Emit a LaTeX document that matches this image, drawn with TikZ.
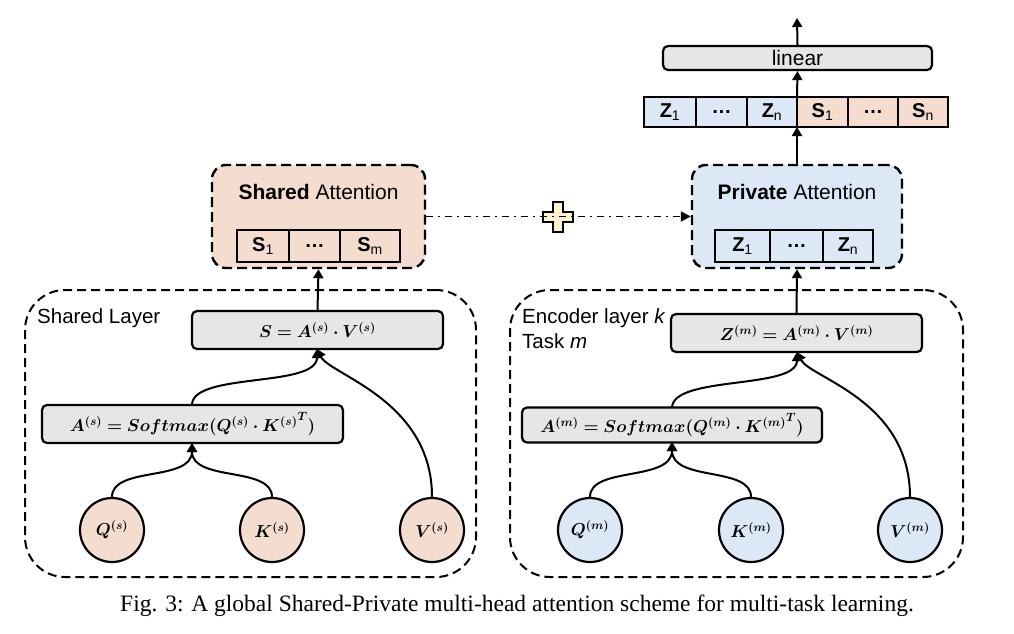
\documentclass[tikz,border=0pt]{standalone}
\usepackage{amsmath}
\usepackage{bm}
\usepackage{fontspec}
\setmainfont{Liberation Serif}
\setsansfont{Liberation Sans}
\usetikzlibrary{arrows.meta}
\definecolor{peach}{HTML}{F4DDCF}
\definecolor{lblue}{HTML}{DCE8F5}
\definecolor{lgray}{HTML}{E6E6E6}
\definecolor{plusy}{HTML}{FFF2CC}
\newcommand{\fsz}[1]{\fontsize{#1}{#1}\selectfont}
\begin{document}
\begin{tikzpicture}[x=1pt,y=-1pt,
  attbox/.style={draw, line width=2.4pt, dash pattern=on 10pt off 5pt, rounded corners=14pt, inner sep=0pt},
  layerbox/.style={draw, line width=2pt, dash pattern=on 9pt off 5pt, rounded corners=40pt, inner sep=0pt},
  cell/.style={draw, line width=2pt, minimum height=32pt, inner sep=0pt, font=\sffamily\fsz{20}},
  opbox/.style={draw, line width=2.2pt, fill=lgray, rounded corners=5pt, inner sep=0pt},
  circ/.style={draw, line width=2.2pt, circle, minimum size=64pt, inner sep=0pt, font=\fsz{17}},
  arr/.style={line width=2pt, -{Triangle[width=10pt,length=9pt]}},
  lab/.style={font=\sffamily\fsz{20.5}, anchor=base west, inner sep=0pt}
]
\useasboundingbox (0,0) rectangle (1014,633);

% ---------- attention boxes ----------
\node[attbox, fill=peach, minimum width=213pt, minimum height=103pt] (sa) at (318.5,216.5) {};
\node[font=\sffamily\fsz{21}] (satitle) at (318.5,192) {\textbf{Shared} Attention};
\node[cell, fill=peach, minimum width=52pt] (s1) at (263,246) {\textbf{S}\textsubscript{1}};
\node[cell, fill=peach, minimum width=51pt] (sd) at (314.5,246) {\textbf{\dots}};
\node[cell, fill=peach, minimum width=60pt] (sm) at (370,246) {\textbf{S}\textsubscript{m}};

\node[attbox, fill=lblue, minimum width=210pt, minimum height=103pt] (pa) at (797,216.5) {};
\node[font=\sffamily\fsz{21}] (patitle) at (797,192) {\textbf{Private} Attention};
\node[cell, fill=lblue, minimum width=55pt] (z1) at (742.5,246) {\textbf{Z}\textsubscript{1}};
\node[cell, fill=lblue, minimum width=53pt] (zd) at (796.5,246) {\textbf{\dots}};
\node[cell, fill=lblue, minimum width=50pt] (zn) at (848,246) {\textbf{Z}\textsubscript{n}};

% ---------- concat row and linear ----------
\node[cell, fill=lblue, minimum width=52pt, minimum height=30pt] (c1) at (670,112) {\textbf{Z}\textsubscript{1}};
\node[cell, fill=lblue, minimum width=51pt, minimum height=30pt] (c2) at (721.5,112) {\textbf{\dots}};
\node[cell, fill=lblue, minimum width=50pt, minimum height=30pt] (c3) at (772,112) {\textbf{Z}\textsubscript{n}};
\node[cell, fill=peach, minimum width=51pt, minimum height=30pt] (c4) at (822.5,112) {\textbf{S}\textsubscript{1}};
\node[cell, fill=peach, minimum width=50pt, minimum height=30pt] (c5) at (873,112) {\textbf{\dots}};
\node[cell, fill=peach, minimum width=50pt, minimum height=30pt] (c6) at (923,112) {\textbf{S}\textsubscript{n}};
\coordinate (cbot) at (797,127);
\coordinate (ctop) at (797,97);

\node[opbox, minimum width=269pt, minimum height=24pt, font=\sffamily\fsz{21}] (lin) at (797.5,58) {linear};
\coordinate (out) at (797,18);

\draw[arr] (pa.north) -- (cbot);
\draw[arr] (ctop) -- (lin.south);
\draw[arr] (lin.north) -- (out);

% ---------- plus and dash-dot connector ----------
\coordinate (plus) at (558,217);
\draw[line width=2.2pt, fill=plusy] (553,202) -- (563,202) -- (563,212) -- (573,212) -- (573,222) -- (563,222) -- (563,232) -- (553,232) -- (553,222) -- (543,222) -- (543,212) -- (553,212) -- cycle;
\draw[line width=1.6pt, dash pattern=on 7pt off 5pt on 2pt off 5pt, -{Triangle[width=10pt,length=10pt]}] (sa.east) -- (pa.west);

% ---------- layer boxes ----------
\node[layerbox, minimum width=451pt, minimum height=287pt] (sl) at (250.5,433.5) {};
\node[lab] (sltxt) at (37,323) {Shared Layer};
\node[layerbox, minimum width=453pt, minimum height=287pt] (pl) at (736.5,433.5) {};
\node[lab] (pltxt1) at (522,323) {Encoder layer \textit{k}};
\node[lab] (pltxt2) at (522,348) {Task \textit{m}};

% ---------- shared layer contents ----------
\node[opbox, minimum width=251pt, minimum height=38pt, font=\fsz{17}] (sbox) at (317.5,330) {$\bm{S = A^{(s)}\cdot V^{(s)}}$};
\node[opbox, minimum width=301pt, minimum height=38pt, font=\fsz{17}] (abox) at (192.5,424) {$\bm{A^{(s)} = Softmax(Q^{(s)}\cdot {K^{(s)}}^{T})}$};
\node[circ, fill=peach] (q) at (112,530) {$\bm{Q^{(s)}}$};
\node[circ, fill=peach] (k) at (272,530) {$\bm{K^{(s)}}$};
\node[circ, fill=peach] (v) at (432,530) {$\bm{V^{(s)}}$};
\coordinate (atop) at (192,405);
\coordinate (abot) at (192,443);
\coordinate (sbot) at (317,349);

\draw[arr] (sbox.north) -- (sa.south);
\draw[arr] (atop) .. controls (192,372) and (317,388) .. (sbot);
\draw[arr] (v.north) .. controls (432,400) and (330,375) .. (sbot);
\draw[arr] (q.north) .. controls (112,466) and (192,482) .. (abot);
\draw[arr] (k.north) .. controls (272,466) and (192,482) .. (abot);

% ---------- private layer contents ----------
\node[opbox, minimum width=251pt, minimum height=38pt, font=\fsz{17}] (zbox) at (796.5,333) {$\bm{Z^{(m)} = A^{(m)}\cdot V^{(m)}}$};
\node[opbox, minimum width=300pt, minimum height=35pt, font=\fsz{17}] (mbox) at (672,425) {$\bm{A^{(m)} = Softmax(Q^{(m)}\cdot {K^{(m)}}^{T})}$};
\node[circ, fill=lblue] (qm) at (590,530) {$\bm{Q^{(m)}}$};
\node[circ, fill=lblue] (km) at (751,530) {$\bm{K^{(m)}}$};
\node[circ, fill=lblue] (vm) at (910,530) {$\bm{V^{(m)}}$};
\coordinate (mtop) at (672,408);
\coordinate (mbot) at (672,442);
\coordinate (zbot) at (797,352);

\draw[arr] (zbox.north) -- (pa.south);
\draw[arr] (mtop) .. controls (672,375) and (797,390) .. (zbot);
\draw[arr] (vm.north) .. controls (910,400) and (810,378) .. (zbot);
\draw[arr] (qm.north) .. controls (590,466) and (672,482) .. (mbot);
\draw[arr] (km.north) .. controls (751,466) and (672,482) .. (mbot);

% ---------- caption ----------
\node[font=\fsz{23.5}] (cap) at (517,606) {Fig. 3: A global Shared-Private multi-head attention scheme for multi-task learning.};
\end{tikzpicture}
\end{document}
